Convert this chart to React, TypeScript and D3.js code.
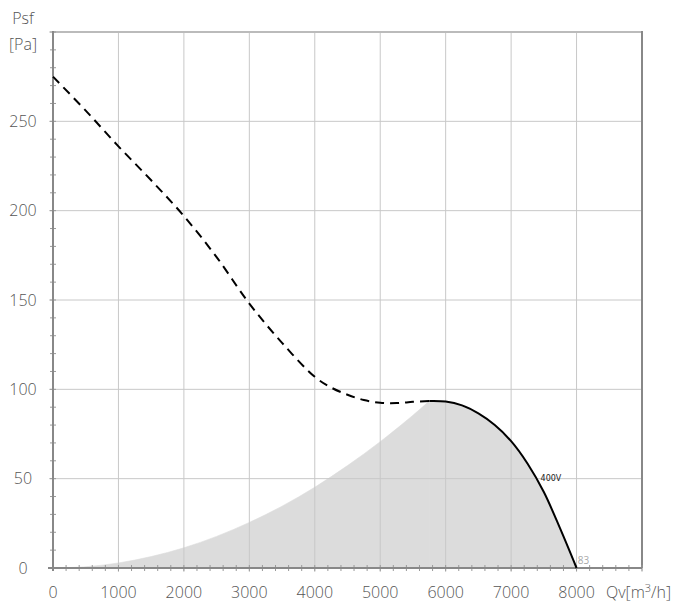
import React from "react";
import * as d3 from "d3";

const xTicks = [0, 1000, 2000, 3000, 4000, 5000, 6000, 7000, 8000];
const yTicks = [0, 50, 100, 150, 200, 250];

// dashed (unstable) part of the fan curve
const dashedQ = [0, 500, 1000, 1500, 2000, 2500, 3000, 3500, 4000, 4250, 4500, 4750, 5000, 5250, 5500, 5750];
const dashedP = [275, 256, 236, 217, 197, 174, 148, 126, 107, 101, 97, 94, 92.5, 92.3, 93, 93.5];

// solid (working) part of the fan curve
const solidQ = [5750, 6000, 6250, 6500, 6750, 7000, 7250, 7500, 7750, 8000];
const solidP = [93.5, 93.2, 91, 86.5, 80, 71, 58.5, 42.5, 22, 0];

// system curve (upper edge of shaded area, left part)
const sysQ = [0, 500, 1000, 1500, 2000, 2500, 3000, 3500, 4000, 4500, 5000, 5500, 5750];
const sysP = [0, 0.7, 2.8, 6.4, 11.3, 17.7, 25.5, 34.6, 45.2, 57.3, 70.7, 85.5, 93.5];

const W = 678, H = 602;
const M = { left: 53, right: 642, top: 32, bottom: 568 };

export default function App() {
  const x = d3.scaleLinear().domain([0, 9000]).range([M.left, M.right]);
  const y = d3.scaleLinear().domain([0, 300]).range([M.bottom, M.top]);

  const dashed = dashedQ.map((q, i) => [q, dashedP[i]] as [number, number]);
  const solid = solidQ.map((q, i) => [q, solidP[i]] as [number, number]);
  const sys = sysQ.map((q, i) => [q, sysP[i]] as [number, number]);

  const curve = d3.curveCatmullRom.alpha(0.5);
  const line = d3
    .line<[number, number]>()
    .x((d) => x(d[0]))
    .y((d) => y(d[1]))
    .curve(curve);

  const area = d3
    .area<[number, number]>()
    .x((d) => x(d[0]))
    .y0(y(0))
    .y1((d) => y(d[1]))
    .curve(curve);

  const minorX = d3.range(0, 9001, 200);
  const minorY = d3.range(0, 301, 10);
  const gridY = d3.range(50, 301, 50);
  const gridX = d3.range(1000, 9001, 1000);

  const font = "'Open Sans', sans-serif";
  const txt = "#555";

  return (
    <div style={{ position: "absolute", left: 0, top: 0 }}>
      <svg width={W} height={H} style={{ display: "block" }}>
        <rect x={0} y={0} width={W} height={H} fill="#fff" />
        <path d={area(sys) || ""} fill="#dcdcdc" stroke="#dcdcdc" strokeWidth={0.6} />
        <path d={area(solid) || ""} fill="#dcdcdc" stroke="#dcdcdc" strokeWidth={0.6} />
        {gridX.map((v) => (
          <line key={"gx" + v} x1={x(v)} x2={x(v)} y1={y(300)} y2={y(0) + 4} stroke="#c8c8c8" strokeWidth={1} />
        ))}
        {gridY.map((v) => (
          <line key={"gy" + v} x1={x(0) - 4} x2={x(9000)} y1={y(v)} y2={y(v)} stroke="#c8c8c8" strokeWidth={1} />
        ))}
        {/* top border */}
        <line x1={x(0)} x2={x(9000)} y1={y(300)} y2={y(300)} stroke="#bbb" strokeWidth={2} />
        {/* right border */}
        <line x1={x(9000)} x2={x(9000)} y1={y(300) - 1} y2={y(0)} stroke="#888" strokeWidth={2} />
        {/* minor ticks */}
        {minorX.map((v) => (
          <line key={"mx" + v} x1={x(v)} x2={x(v)} y1={y(0) - 3} y2={y(0) + 3} stroke="#999" strokeWidth={1} />
        ))}
        {minorY.map((v) => (
          <line key={"my" + v} x1={x(0) - 3} x2={x(0) + 3} y1={y(v)} y2={y(v)} stroke="#999" strokeWidth={1} />
        ))}
        {/* axes */}
        <line x1={x(0)} x2={x(0)} y1={y(300) - 1} y2={y(0) + 3} stroke="#888" strokeWidth={2} />
        <line x1={x(0) - 5} x2={x(9000)} y1={y(0)} y2={y(0)} stroke="#888" strokeWidth={2} />

        {/* curves */}
        <path d={line(dashed) || ""} fill="none" stroke="#fff" strokeWidth={1} />
        <path d={line(dashed) || ""} fill="none" stroke="#000" strokeWidth={2} strokeDasharray="9,6" />
        <path d={line(solid) || ""} fill="none" stroke="#000" strokeWidth={2} />

        {/* tick labels */}
        {xTicks.map((v) => (
          <text key={"xl" + v} x={x(v)} y={598} textAnchor="middle" fontFamily={font} fontWeight={300} fontSize={16} fill={txt}>
            {v}
          </text>
        ))}
        {yTicks.map((v) => (
          <text key={"yl" + v} x={23} y={y(v)} dy="0.35em" textAnchor="middle" fontFamily={font} fontWeight={300} fontSize={16} fill={txt}>
            {v}
          </text>
        ))}
        <text x={23} y={24} textAnchor="middle" fontFamily={font} fontWeight={300} fontSize={16} fill={txt}>Psf</text>
        <text x={23} y={50} textAnchor="middle" fontFamily={font} fontWeight={300} fontSize={16} fill={txt}>[Pa]</text>
        <text x={606} y={598} fontFamily={font} fontWeight={300} fontSize={16} fill={txt}>
          Qv[m<tspan dy={-6} fontSize={11}>3</tspan><tspan dy={6}>/h]</tspan>
        </text>
        <text x={x(7450)} y={y(50)} dy="0.35em" fontFamily="'DejaVu Sans', sans-serif" fontSize={8} fill="#222">400V</text>
        <text x={x(8020)} y={y(0) - 4} fontFamily={font} fontSize={10} fill="#aaa">83</text>
      </svg>
    </div>
  );
}
